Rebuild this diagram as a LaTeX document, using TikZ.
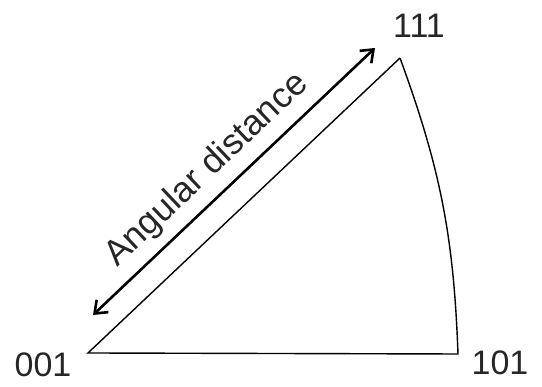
\documentclass[tikz,border=0pt]{standalone}
\usepackage{fontspec}
\setmainfont{Liberation Sans}
\usetikzlibrary{arrows.meta}
\begin{document}
\begin{tikzpicture}[x=1pt,y=1pt,
  lbl/.style={font=\fontsize{34}{40}\selectfont, text=black!85, inner sep=0pt},
  edge/.style={line width=1.4pt, black},
  arr/.style={line width=2.6pt, black, {Straight Barb[length=11pt,width=17pt,line width=2.6pt]}-{Straight Barb[length=11pt,width=17pt,line width=2.6pt]}}]
\useasboundingbox (0,0) rectangle (542,387);
\coordinate (v001) at (88,34);
\coordinate (v101) at (458,33);
\coordinate (v111) at (400,329);
\coordinate (a1) at (93,72);
\coordinate (a2) at (375,339);
\node[lbl] (l001) at (43,22) {001};
\node[lbl] (l101) at (500,24) {101};
\node[lbl] (l111) at (419,361) {111};
\draw[edge, line join=miter] (v111) -- (v001) -- (v101) to[bend right=9] (v111);
\draw[arr] (a1) -- node[lbl, font=\fontsize{35.5}{40}\selectfont, sloped, above=9pt, pos=0.47] (ad) {Angular distance} (a2);
\end{tikzpicture}
\end{document}
